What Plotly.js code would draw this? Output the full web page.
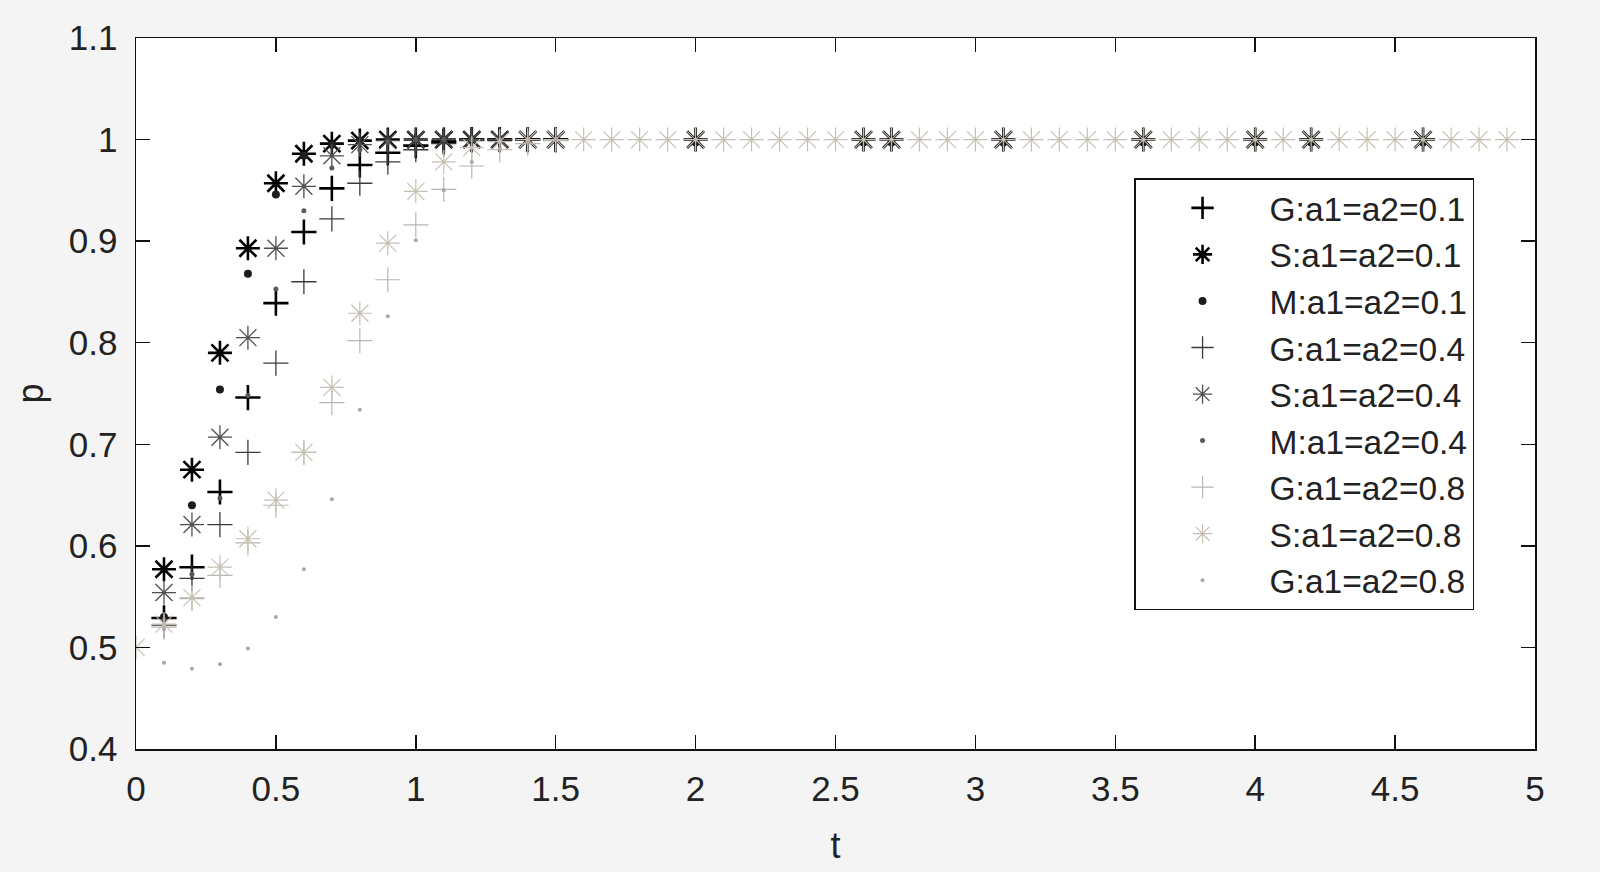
<!DOCTYPE html>
<html>
<head>
<meta charset="utf-8">
<script src="https://cdn.plot.ly/plotly-3.0.1.min.js"></script>
<style>html,body{margin:0;padding:0;background:#f4f4f4;}#chart{width:1600px;height:872px;}</style>
</head>
<body>
<div id="chart"></div>
<script>
// time axis
const t = [
  0, 0.1, 0.2, 0.3, 0.4, 0.5, 0.6, 0.7, 0.8, 0.9,
  1.0, 1.1, 1.2, 1.3, 1.4, 1.5, 1.6, 1.7, 1.8, 1.9,
  2.0, 2.1, 2.2, 2.3, 2.4, 2.5, 2.6, 2.7, 2.8, 2.9,
  3.0, 3.1, 3.2, 3.3, 3.4, 3.5, 3.6, 3.7, 3.8, 3.9,
  4.0, 4.1, 4.2, 4.3, 4.4, 4.5, 4.6, 4.7, 4.8, 4.9
];

const labels = [
  "G:a1=a2=0.1", "S:a1=a2=0.1", "M:a1=a2=0.1",
  "G:a1=a2=0.4", "S:a1=a2=0.4", "M:a1=a2=0.4",
  "G:a1=a2=0.8", "S:a1=a2=0.8", "G:a1=a2=0.8"
];

// values (null = no visible mark)
const G01 = [
  null, 0.529, 0.579, 0.653, 0.746, 0.839, 0.909, 0.952, 0.975, 0.987,
  0.994, 0.998, 1, 1, 1, 1, null, null, null, null,
  null, null, null, null, null, null, null, null, null, null,
  null, null, null, null, null, null, null, null, null, null,
  null, null, null, null, null, null, null, null, null, null
];
const S01 = [
  null, 0.577, 0.675, 0.790, 0.893, 0.957, 0.986, 0.996, 0.999, 1,
  1, 1, 1, 1, 1, 1, null, null, null, null,
  1, null, null, null, null, null, 1, 1, null, null,
  null, 1, null, null, null, null, 1, null, null, null,
  1, null, 1, null, null, null, 1, null, null, null
];
const M01 = [
  null, 0.530, 0.640, 0.754, 0.868, 0.946, 0.984, 0.995, 0.999, 1,
  1, 1, 1, 1, 1, 1, null, null, null, null,
  0.997, null, null, null, null, null, 0.997, 0.997, null, null,
  null, 0.997, null, null, null, null, 0.997, null, null, null,
  0.997, null, 0.997, null, null, null, 0.997, null, null, null
];
const G04 = [
  null, 0.522, 0.568, 0.621, 0.692, 0.780, 0.860, 0.922, 0.957, 0.978,
  0.990, 0.996, 0.999, 1, 1, 1, null, null, null, null,
  null, null, null, null, null, null, null, null, null, null,
  null, null, null, null, null, null, null, null, null, null,
  null, null, null, null, null, null, null, null, null, null
];
const S04 = [
  null, 0.554, 0.621, 0.707, 0.805, 0.893, 0.954, 0.984, 0.995, 0.999,
  1, 1, 1, 1, 1, 1, null, null, null, null,
  null, null, null, null, null, null, null, null, null, null,
  null, null, null, null, null, null, null, null, null, null,
  null, null, null, null, null, null, null, null, null, null
];
const M04 = [
  null, 0.527, 0.572, 0.647, 0.748, 0.853, 0.930, 0.972, 0.990, 0.997,
  1, 1, 1, 1, 1, 1, null, null, null, null,
  null, null, null, null, null, null, null, null, null, null,
  null, null, null, null, null, null, null, null, null, null,
  null, null, null, null, null, null, null, null, null, null
];
const G08 = [
  null, 0.520, 0.548, 0.571, 0.603, 0.640, 0.692, 0.741, 0.802, 0.862,
  0.916, 0.951, 0.974, 0.990, 0.996, 0.999, null, null, null, null,
  null, null, null, null, null, null, null, null, null, null,
  null, null, null, null, null, null, null, null, null, null,
  null, null, null, null, null, null, null, null, null, null
];
const S08 = [
  0.500, 0.523, 0.549, 0.579, 0.607, 0.645, 0.692, 0.756, 0.829, 0.898,
  0.949, 0.978, 0.992, 0.998, 1, 1, 1, 1, 1, 1,
  1, 1, 1, 1, 1, 1, 1, 1, 1, 1,
  1, 1, 1, 1, 1, 1, 1, 1, 1, 1,
  1, 1, 1, 1, 1, 1, 1, 1, 1, 1
];
const M08 = [
  null, 0.485, 0.479, 0.4835, 0.499, 0.530, 0.577, 0.646, 0.734, 0.826,
  0.901, 0.950, 0.978, 0.991, 0.997, 1, null, null, null, null,
  null, null, null, null, null, null, null, null, null, null,
  null, null, null, null, null, null, null, null, null, null,
  null, null, null, null, null, null, null, null, null, null
];

const seriesY = [G01, S01, M01, G04, S04, M04, G08, S08, M08];
const styles = [
  {symbol: "cross-thin-open", size: 18, color: "#000000", lw: 2.6},
  {symbol: "asterisk-open",   size: 20, color: "#000000", lw: 2.6},
  {symbol: "circle",          size: 8,  color: "#1e1e1e", lw: 0},
  {symbol: "cross-thin-open", size: 18, color: "#3c3c3c", lw: 1.3},
  {symbol: "asterisk-open",   size: 20, color: "#505050", lw: 1.3},
  {symbol: "circle",          size: 5,  color: "#5a5a5a", lw: 0},
  {symbol: "cross-thin-open", size: 18, color: "#b8b8b2", lw: 1.2},
  {symbol: "asterisk-open",   size: 20, color: "#c6c0b3", lw: 1.2},
  {symbol: "circle",          size: 4,  color: "#b3a3a3", lw: 0}
];

const traces = seriesY.map((y, i) => ({
  type: "scatter",
  mode: "markers",
  x: t,
  y: y,
  name: labels[i],
  legendgroup: "g" + i,
  marker: {
    symbol: styles[i].symbol,
    size: styles[i].size,
    color: styles[i].color,
    line: {color: styles[i].color, width: styles[i].lw}
  }
}));

const font = "Liberation Sans, Arial, Helvetica, sans-serif";
const txt = "#222222";

const layout = {
  width: 1600, height: 872,
  paper_bgcolor: "#f4f4f4",
  plot_bgcolor: "#ffffff",
  margin: {l: 136, r: 65, t: 38, b: 123},
  font: {family: font, color: txt, size: 30},
  showlegend: true,
  legend: {
    x: 0.7134, y: 0.803, xanchor: "left", yanchor: "top",
    bgcolor: "#ffffff", bordercolor: "#111111", borderwidth: 1.5,
    font: {family: font, size: 33.5, color: txt},
    traceorder: "grouped", tracegroupgap: 0,
    itemwidth: 124
  },
  xaxis: {
    range: [0, 5], dtick: 0.5, tick0: 0,
    ticks: "inside", ticklen: 14, tickwidth: 1.5, tickcolor: "#111",
    showline: true, linecolor: "#111", linewidth: 1.5, mirror: "ticks",
    showgrid: false, zeroline: false,
    ticklabelstandoff: 8,
    tickfont: {family: font, size: 35, color: txt},
    title: {text: "t", font: {family: font, size: 36, color: txt}, standoff: 26}
  },
  yaxis: {
    range: [0.4, 1.1], dtick: 0.1, tick0: 0.4,
    ticks: "inside", ticklen: 14, tickwidth: 1.5, tickcolor: "#111",
    showline: true, linecolor: "#111", linewidth: 1.5, mirror: "ticks",
    showgrid: false, zeroline: false,
    ticklabelstandoff: 10,
    tickfont: {family: font, size: 35, color: txt},
    title: {text: "p", font: {family: font, size: 36, color: txt}, standoff: 14}
  }
};

Plotly.newPlot("chart", traces, layout, {displayModeBar: false, staticPlot: true});
</script>
</body>
</html>
